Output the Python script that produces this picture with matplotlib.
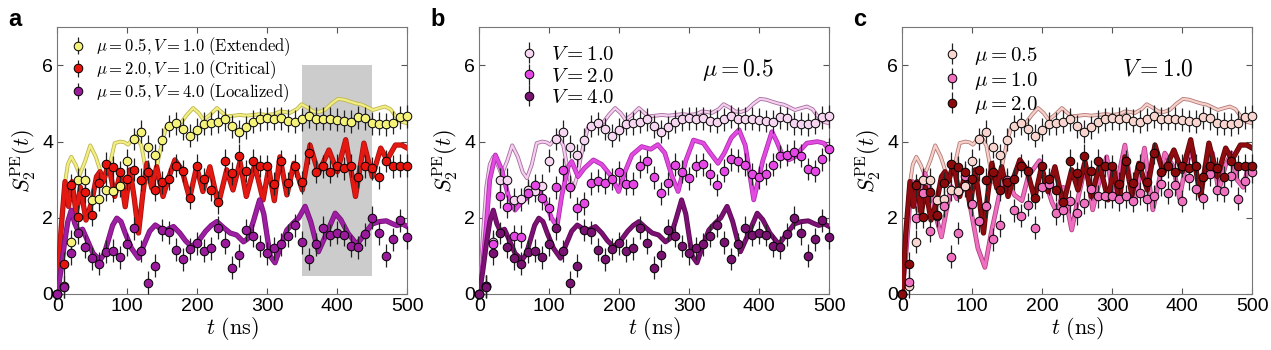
#! /usr/bin/env python3

import matplotlib
matplotlib.use("Agg")
import matplotlib.pyplot as plt
import matplotlib.patheffects as pe
import numpy

"""
Points mesures (un point toutes les 10 ns).
"""

t_pts = numpy.arange(0, 501, 10)

ext_pts = [0, 0.2, 1.37, 3.0, 3.0, 2.47, 2.49, 2.73, 2.71, 2.84,
           3.5, 4.07, 4.26, 3.87, 3.64, 4.05, 4.41, 4.48, 4.33, 4.15,
           4.31, 4.47, 4.48, 4.52, 4.59, 4.40, 4.26, 4.38, 4.52, 4.59,
           4.61, 4.6, 4.61, 4.55, 4.52, 4.59, 4.66, 4.6, 4.6, 4.6,
           4.57, 4.54, 4.52, 4.64, 4.61, 4.48, 4.47, 4.45, 4.5, 4.64, 4.66]

crit_pts = [0, 0.79, 2.85, 2.03, 2.69, 2.08, 2.91, 3.42, 3.33, 3.19,
            3.02, 3.26, 3.0, 3.21, 2.73, 2.93, 3.02, 3.37, 3.23, 2.53,
            3.37, 3.02, 2.73, 2.41, 3.5, 3.17, 3.63, 3.23, 3.5, 3.36,
            3.36, 2.89, 3.49, 2.91, 3.37, 2.93, 3.7, 3.21, 3.35, 3.21,
            3.37, 3.3, 3.37, 3.08, 3.35, 3.3, 3.06, 3.49, 3.35, 3.37, 3.37]

loc_pts = [0, 0.19, 1.07, 1.6, 1.24, 0.94, 0.79, 1.11, 1.14, 0.96,
           1.3, 1.73, 1.13, 0.3, 0.74, 1.68, 1.62, 1.16, 0.91, 1.18,
           1.33, 1.14, 1.2, 1.74, 1.35, 0.69, 1.02, 1.68, 1.53, 1.26,
           1.07, 1.2, 1.3, 1.53, 1.8, 1.36, 0.92, 1.3, 1.74, 1.55,
           1.61, 1.55, 1.26, 1.23, 1.57, 2.0, 1.59, 1.0, 1.44, 1.93, 1.49]

v2_pts = [0, 0.21, 1.3, 2.57, 2.29, 1.52, 1.5, 2.66, 2.86, 2.51,
          2.25, 2.8, 3.26, 2.82, 2.25, 2.38, 2.91, 2.97, 2.92, 3.02,
          3.19, 2.89, 2.89, 3.35, 3.48, 3.06, 2.64, 2.91, 3.39, 3.21,
          3.04, 3.37, 3.41, 3.15, 2.86, 3.24, 3.54, 3.5, 3.39, 3.15,
          3.06, 3.15, 3.39, 3.61, 3.65, 3.74, 3.63, 3.28, 3.23, 3.54, 3.8]

mu1_pts = [0, 0.32, 2.0, 2.66, 1.66, 2.05, 2.31, 0.98, 1.6, 3.1,
           2.36, 1.92, 2.3, 1.44, 1.8, 3.0, 2.2, 2.05, 2.34, 1.74,
           2.82, 2.9, 2.12, 2.2, 2.43, 2.12, 2.4, 2.76, 2.56, 2.56,
           2.56, 2.49, 2.56, 2.44, 2.64, 2.49, 2.56, 2.88, 2.66, 2.86,
           2.44, 3.04, 2.76, 2.53, 3.14, 2.73, 2.71, 3.11, 2.5, 2.97, 3.21]

err = numpy.r_[0, numpy.full(50, 0.3)]

"""
Courbes théoriques (valeurs lues aux extrema).
"""

ext_t = [0, 5, 10, 15, 20, 26, 32, 40, 47, 55, 62, 68, 75, 82, 90, 96, 101,
         107, 112, 120, 125, 130, 135, 140, 145, 150, 155, 160, 170, 177, 185,
         194, 202, 209, 218, 228, 236, 242, 252, 261, 270, 280, 290, 299, 310,
         318, 325, 332, 342, 349, 357, 366, 374, 382, 392, 401, 410, 418, 427,
         435, 443, 451, 460, 468, 476, 482, 490, 500]
ext_v = [0, 1.5, 2.8, 3.4, 3.6, 3.4, 3.13, 3.5, 3.9, 3.6, 3.2, 3.04, 3.4, 3.96,
         4.0, 3.98, 3.92, 4.05, 4.15, 3.9, 3.4, 2.95, 2.8, 3.1, 3.6, 4.0, 4.35,
         4.47, 4.45, 4.5, 4.7, 4.88, 4.75, 4.57, 4.7, 4.88, 4.75, 4.66, 4.68,
         4.7, 4.68, 4.7, 4.72, 4.7, 4.72, 4.79, 4.78, 4.75, 4.85, 4.98, 4.9,
         4.79, 4.78, 4.83, 5.0, 5.12, 5.1, 5.05, 5.0, 4.97, 4.9, 4.83, 4.88,
         4.92, 4.85, 4.7, 4.53, 4.48]

crit_t = [0, 5, 11, 16, 21, 27, 33, 41, 49, 56, 61, 66, 73, 82, 90, 97, 104,
          110, 116, 122, 128, 135, 142, 151, 160, 168, 178, 189, 199, 208, 218,
          230, 242, 251, 261, 270, 282, 294, 302, 310, 318, 328, 338, 350, 361,
          373, 388, 400, 412, 426, 438, 450, 462, 471, 483, 492, 500]
crit_v = [0, 1.6, 2.95, 2.3, 2.95, 2.1, 2.8, 1.94, 2.4, 3.08, 3.21, 2.95, 3.43,
          2.56, 3.17, 2.29, 3.26, 2.5, 1.6, 2.6, 3.43, 2.78, 3.34, 2.56, 3.1,
          3.52, 3.26, 2.51, 3.34, 2.69, 3.34, 2.35, 3.26, 2.73, 3.47, 2.56,
          3.39, 2.47, 3.3, 2.45, 3.6, 2.6, 3.43, 2.73, 3.91, 3.17, 3.78, 3.21,
          4.05, 2.56, 3.96, 3.08, 3.83, 3.52, 3.91, 3.91, 3.83]

loc_t = [0, 5, 10, 15, 20, 25, 30, 36, 42, 51, 61, 67, 73, 79, 85, 91, 97,
         106, 116, 124, 132, 140, 145, 151, 158, 166, 175, 183, 192, 202, 212,
         220, 228, 237, 247, 256, 266, 272, 280, 289, 295, 304, 311, 320, 328,
         337, 345, 354, 362, 373, 385, 397, 405, 415, 428, 440, 450, 460, 470,
         478, 485, 493, 500]
loc_v = [0, 0.6, 1.3, 1.9, 2.2, 1.85, 1.65, 1.7, 1.45, 1.07, 0.89, 1.05, 1.42,
         1.8, 1.99, 1.9, 1.6, 1.2, 0.94, 1.3, 1.65, 1.81, 1.75, 1.64, 1.7,
         1.77, 1.6, 1.4, 1.24, 1.4, 1.65, 1.8, 1.9, 1.75, 1.6, 1.55, 1.37,
         1.45, 1.9, 2.47, 2.1, 1.0, 0.82, 1.3, 1.68, 1.86, 2.0, 2.3, 1.9, 1.11,
         1.6, 2.12, 1.95, 1.6, 1.3, 1.6, 1.84, 1.9, 1.92, 1.85, 1.8, 1.84, 1.77]

v2_t = [0, 5, 10, 15, 23, 32, 41, 51, 60, 70, 84, 95, 103, 111, 118, 127, 132,
        141, 150, 163, 175, 189, 199, 208, 218, 232, 245, 255, 265, 275, 284,
        295, 306, 320, 330, 341, 350, 360, 371, 380, 392, 405, 418, 425, 432,
        442, 452, 460, 468, 483, 492, 500]
v2_v = [0, 0.8, 1.8, 3.0, 3.65, 3.26, 2.6, 2.2, 2.4, 2.56, 2.73, 2.4, 2.0,
        1.77, 2.6, 3.34, 3.48, 3.08, 3.3, 3.52, 3.4, 3.08, 2.69, 3.2, 3.65,
        3.87, 3.8, 3.92, 3.7, 3.1, 2.69, 3.5, 4.04, 3.96, 3.7, 3.43, 3.7, 4.1,
        4.31, 3.9, 2.47, 3.5, 4.26, 4.0, 3.69, 3.52, 3.61, 3.8, 3.96, 4.0,
        3.96, 3.78]

mu1_t = [0, 5, 10, 15, 22, 32, 38, 44, 50, 56, 63, 70, 78, 85, 92, 100, 108,
         118, 127, 137, 144, 151, 160, 171, 180, 188, 196, 205, 214, 222, 230,
         242, 252, 262, 272, 282, 292, 302, 310, 318, 325, 332, 340, 346, 352,
         358, 366, 375, 387, 396, 405, 415, 425, 434, 443, 452, 462, 470, 478,
         487, 495, 500]
mu1_v = [0, 1.0, 2.2, 2.95, 2.2, 3.17, 2.9, 2.47, 1.9, 1.5, 2.2, 2.82, 2.5,
         2.7, 2.82, 2.0, 1.2, 0.7, 1.6, 2.47, 3.1, 2.99, 2.6, 2.45, 3.1, 3.3,
         3.5, 2.9, 2.4, 2.1, 2.8, 1.68, 2.6, 3.4, 2.21, 3.0, 3.6, 2.5, 3.2,
         3.91, 3.0, 2.38, 3.2, 3.83, 3.0, 2.21, 2.9, 3.7, 3.35, 2.5, 3.4, 3.8,
         2.7, 3.3, 3.7, 2.7, 3.4, 3.7, 3.0, 2.8, 3.4, 3.3]

"""
Style général.
"""

plt.rcParams["font.family"] = ["Liberation Sans", "DejaVu Sans"]
plt.rcParams["mathtext.fontset"] = "cm"
plt.rcParams["xtick.direction"] = "in"
plt.rcParams["ytick.direction"] = "in"

fig = plt.figure(figsize=(12.71, 3.5), dpi=100)

lefts = [57.3 / 1271, 479.3 / 1271, 902.3 / 1271]
axes = [fig.add_axes([l, 0.16, 350 / 1271, 0.762]) for l in lefts]


def curve(ax, t, v, col, edge, lw):
    ax.plot(t, v, color=col, lw=lw, zorder=3, solid_joinstyle="round",
            path_effects=[pe.Stroke(linewidth=lw + 1.2, foreground=edge),
                          pe.Normal()])


def points(ax, v, col, label):
    return ax.errorbar(t_pts, v, yerr=err, fmt="o", ms=6.2, mfc=col,
                       mec="black", mew=0.7, ecolor="#222222", elinewidth=0.9,
                       capsize=0, zorder=5, clip_on=False, label=label)


def style(ax, letter):
    ax.set_xlim(0, 500)
    ax.set_ylim(0, 7)
    ax.set_xticks([0, 100, 200, 300, 400, 500])
    ax.set_yticks([0, 2, 4, 6])
    ax.tick_params(labelsize=14, top=True, right=True, length=4,
                   color="#555555", pad=3)
    for s in ax.spines.values():
        s.set_color("#777777")
        s.set_linewidth(0.8)
    ax.set_xlabel(r"$t\ (\mathrm{ns})$", fontsize=16, labelpad=0)
    ax.set_ylabel(r"$S_2^{\mathrm{PE}}(t)$", fontsize=16, labelpad=2)
    pos = ax.get_position()
    fig.text(pos.x0 - 49 / 1271, 0.925, letter, fontsize=17,
             fontweight="bold", ha="left", va="baseline")


"""
Panneau a.
"""

ax = axes[0]
ax.fill_between([350, 450], 0.46, 6.0, color="#cccccc", lw=0, zorder=1)
curve(ax, ext_t, ext_v, "#f2ee86", "#bdb64a", 1.6)
curve(ax, crit_t, crit_v, "#e41a12", "#a81010", 2.6)
curve(ax, loc_t, loc_v, "#9b1fa0", "#7a107c", 2.6)
h = [points(ax, ext_pts, "#f5f27a", r"$\mu=0.5, V=1.0\ (\mathrm{Extended})$"),
     points(ax, crit_pts, "#e8140e", r"$\mu=2.0, V=1.0\ (\mathrm{Critical})$"),
     points(ax, loc_pts, "#9a1a9c", r"$\mu=0.5, V=4.0\ (\mathrm{Localized})$")]
ax.legend(handles=h, loc="upper left", frameon=False, fontsize=12,
          handlelength=0.9, handletextpad=0.6, labelspacing=0.0,
          borderaxespad=0.1, bbox_to_anchor=(0.015, 1.0))
style(ax, "a")

"""
Panneau b.
"""

ax = axes[1]
curve(ax, ext_t, ext_v, "#f3d0ee", "#a86aa0", 1.6)
curve(ax, v2_t, v2_v, "#e14be0", "#b02ab0", 2.2)
curve(ax, loc_t, loc_v, "#7c1173", "#5c0a55", 2.4)
h = [points(ax, ext_pts, "#f7d6f2", r"$V=1.0$"),
     points(ax, v2_pts, "#e447e4", r"$V=2.0$"),
     points(ax, loc_pts, "#7a1272", r"$V=4.0$")]
ax.legend(handles=h, loc="upper left", frameon=False, fontsize=15,
          handlelength=0.9, handletextpad=0.6, labelspacing=0.12,
          borderaxespad=0.2, bbox_to_anchor=(0.08, 0.98))
ax.text(0.74, 0.84, r"$\mu=0.5$", transform=ax.transAxes, fontsize=17,
        ha="center", va="center")
style(ax, "b")

"""
Panneau c.
"""

ax = axes[2]
curve(ax, ext_t, ext_v, "#f6cfc9", "#b27a78", 1.6)
curve(ax, mu1_t, mu1_v, "#ee6fc0", "#b0407f", 2.2)
curve(ax, crit_t, crit_v, "#8e0c10", "#5e0608", 2.6)
h = [points(ax, ext_pts, "#f9d5cf", r"$\mu=0.5$"),
     points(ax, mu1_pts, "#f070c0", r"$\mu=1.0$"),
     points(ax, crit_pts, "#8b0b0d", r"$\mu=2.0$")]
ax.legend(handles=h, loc="upper left", frameon=False, fontsize=15,
          handlelength=0.9, handletextpad=0.6, labelspacing=0.12,
          borderaxespad=0.2, bbox_to_anchor=(0.08, 0.98))
ax.text(0.73, 0.84, r"$V=1.0$", transform=ax.transAxes, fontsize=17,
        ha="center", va="center")
style(ax, "c")

fig.savefig("out.png", dpi=100)
